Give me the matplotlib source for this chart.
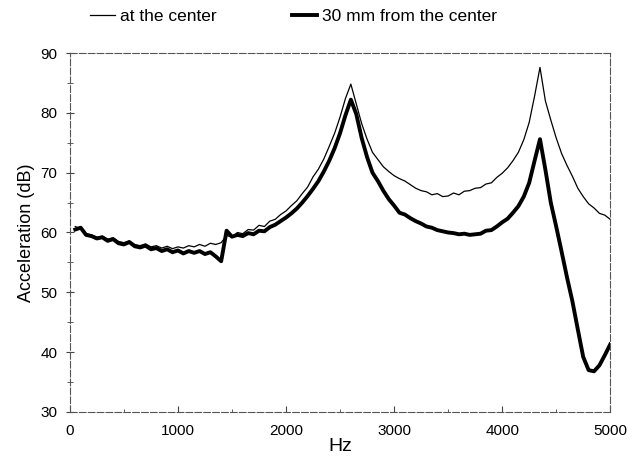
import numpy as np
import matplotlib
matplotlib.use("Agg")
import matplotlib.pyplot as plt
from matplotlib.ticker import MultipleLocator

plt.rcParams['font.family'] = ['Liberation Sans', 'DejaVu Sans']

# frequency grid (Hz), every 50 Hz
freq = np.arange(50, 5001, 50)

# "at the center" (thin line), dB
center = [
    61.0, 60.6, 59.8, 59.6, 59.2, 59.4, 58.9, 59.1, 58.5, 58.3,
    58.6, 58.0, 57.8, 58.1, 57.6, 57.8, 57.4, 57.7, 57.3, 57.6,
    57.4, 57.8, 57.6, 58.0, 57.7, 58.2, 58.0, 58.3, 59.5, 59.2,
    60.0, 59.8, 60.5, 60.4, 61.2, 61.0, 61.9, 62.2, 63.0, 63.6,
    64.5, 65.3, 66.5, 67.6, 69.3, 70.6, 72.3, 74.4, 76.6, 79.3,
    82.4, 84.8, 81.5, 78.2, 75.6, 73.4, 72.2, 71.0, 70.2, 69.5,
    69.0, 68.6, 68.0, 67.4, 67.0, 66.8, 66.3, 66.5, 66.0, 66.1,
    66.6, 66.3, 66.9, 67.0, 67.4, 67.5, 68.1, 68.3, 69.2, 69.9,
    70.8, 72.0, 73.4, 75.5, 78.4, 82.8, 87.6, 82.0, 78.8, 75.8,
    73.2, 71.2, 69.4, 67.4, 66.0, 64.8, 64.1, 63.2, 62.9, 62.2,
]

# "30 mm from the center" (thick line), dB
off_center = [
    60.5, 60.8, 59.6, 59.4, 59.0, 59.2, 58.6, 58.9, 58.2, 58.0,
    58.4, 57.7, 57.5, 57.8, 57.2, 57.4, 56.9, 57.2, 56.7, 57.0,
    56.5, 56.9, 56.6, 56.9, 56.4, 56.7, 56.0, 55.2, 60.3, 59.3,
    59.6, 59.4, 59.9, 59.7, 60.3, 60.2, 60.9, 61.3, 61.9, 62.5,
    63.2, 64.0, 65.0, 66.1, 67.3, 68.6, 70.2, 72.0, 74.1, 76.6,
    79.6, 82.2, 79.8, 75.8, 72.6, 70.0, 68.6, 67.0, 65.6, 64.5,
    63.3, 63.0, 62.4, 61.9, 61.5, 61.0, 60.8, 60.4, 60.2, 60.0,
    59.9, 59.7, 59.8, 59.6, 59.7, 59.8, 60.3, 60.4, 61.0, 61.7,
    62.3, 63.3, 64.4, 66.0, 68.3, 72.0, 75.6, 70.5, 65.0, 61.0,
    56.8, 52.5, 48.5, 43.8, 39.2, 37.0, 36.8, 37.8, 39.5, 41.3,
]

fig = plt.figure(figsize=(6.41, 4.65), dpi=100)
ax = fig.add_axes([0.109, 0.114, 0.843, 0.772])

ax.plot(freq, center, color='black', lw=0.9, label='at the center')
ax.plot(freq, off_center, color='black', lw=2.8, label='30 mm from the center')

ax.set_xlim(0, 5000)
ax.set_ylim(30, 90)
ax.xaxis.set_major_locator(MultipleLocator(1000))
ax.xaxis.set_minor_locator(MultipleLocator(500))
ax.yaxis.set_major_locator(MultipleLocator(10))
ax.yaxis.set_minor_locator(MultipleLocator(5))

for s in ax.spines.values():
    s.set_color('#555555')
    s.set_linewidth(0.8)
    s.set_linestyle((0, (6, 2)))

ax.tick_params(axis='x', direction='in', length=4, width=0.8, labelsize=11, pad=9, colors='#444444', labelcolor='black')
ax.tick_params(axis='x', which='minor', direction='in', length=2, colors='#444444')
ax.tick_params(axis='y', direction='inout', length=6, width=0.8, labelsize=11, pad=6, colors='#444444', labelcolor='black')
ax.tick_params(axis='y', which='minor', direction='inout', length=4, colors='#444444')

ax.set_xlabel('Hz', fontsize=14, labelpad=0)
ax.set_ylabel('Acceleration (dB)', fontsize=13, labelpad=4)

fig.legend(loc='upper center', bbox_to_anchor=(0.458, 1.015), ncol=2, frameon=False,
           fontsize=12.5, handlelength=1.45, handletextpad=0.3, columnspacing=4.3)

fig.savefig('out.png', dpi=100)
